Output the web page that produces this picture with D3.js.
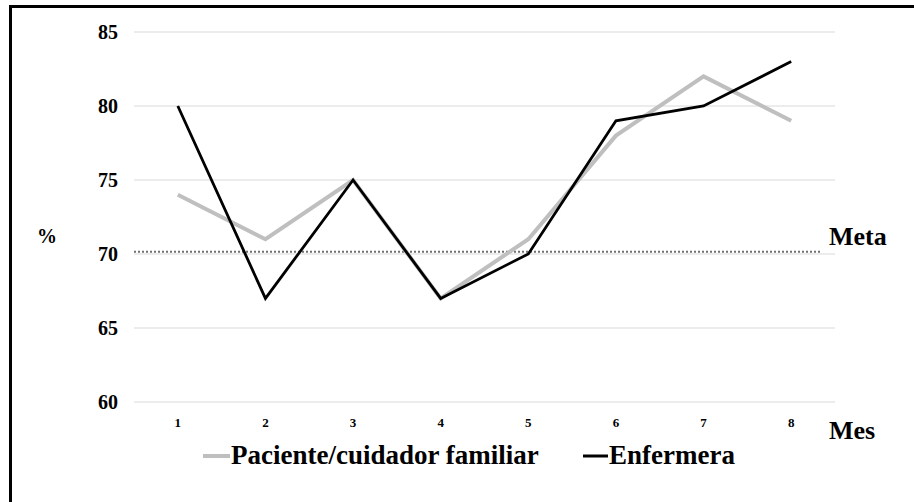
<!DOCTYPE html>
<html>
<head>
<meta charset="utf-8">
<script src="https://cdn.jsdelivr.net/npm/d3@7"></script>
<style>
  html, body { margin: 0; padding: 0; background: #fff; }
  svg { display: block; }
</style>
</head>
<body>
<svg id="chart" width="914" height="502"></svg>
<script>
const months = ["1", "2", "3", "4", "5", "6", "7", "8"];
const paciente = [74, 71, 75, 67, 71, 78, 82, 79];
const enfermera = [80, 67, 75, 67, 70, 79, 80, 83];
const meta = 70.15;
const yTicks = [60, 65, 70, 75, 80, 85];
const seriesNames = ["Paciente/cuidador familiar", "Enfermera"];

(function () {
const FONT = "'Liberation Serif', 'Times New Roman', Times, serif";
const svg = d3.select("#chart");
const style = (sel, size) => sel.style("font-family", FONT).style("font-weight", "bold")
  .style("font-size", size + "px").style("fill", "#000");

// frame (top and left)
svg.append("rect").attr("x", 0).attr("y", 0).attr("width", 914).attr("height", 502).attr("fill", "#fff");
svg.append("line").attr("x1", 9).attr("x2", 914).attr("y1", 6.5).attr("y2", 6.5)
  .attr("stroke", "#000").attr("stroke-width", 3);
svg.append("line").attr("x1", 10.5).attr("x2", 10.5).attr("y1", 5).attr("y2", 502)
  .attr("stroke", "#000").attr("stroke-width", 3);

const mLeft = 134, mRight = 835, mTop = 32, mBottom = 402;

const x = d3.scaleBand().domain(months).range([mLeft, mRight]);
const y = d3.scaleLinear().domain([60, 85]).range([mBottom, mTop]);
const cx = d => x(d) + x.bandwidth() / 2;

// gridlines
svg.append("g").selectAll("line").data(yTicks).join("line")
  .attr("x1", mLeft).attr("x2", mRight)
  .attr("y1", d => y(d)).attr("y2", d => y(d))
  .attr("stroke", "#e6e6e6").attr("stroke-width", 1.3);

// y axis labels
const yAxis = d3.axisLeft(y).tickValues(yTicks).tickSize(0).tickPadding(0);
const gy = svg.append("g").attr("transform", `translate(118,0)`).call(yAxis);
gy.select(".domain").remove();
style(gy.selectAll("text"), 20).attr("dy", "0.33em");

// x axis labels
const xAxis = d3.axisBottom(x).tickSize(0).tickPadding(0);
const gx = svg.append("g").attr("transform", `translate(0,427)`).call(xAxis);
gx.select(".domain").remove();
style(gx.selectAll("text"), 13).attr("dy", "0").attr("y", 0);

// meta dotted line
svg.append("line").attr("x1", mLeft).attr("x2", 820)
  .attr("y1", y(meta)).attr("y2", y(meta))
  .attr("stroke", "#707070").attr("stroke-width", 2).attr("stroke-dasharray", "2,2");

const line = d3.line().x((d, i) => cx(months[i])).y(d => y(d));

svg.append("path").datum(paciente).attr("d", line)
  .attr("fill", "none").attr("stroke", "#bfbfbf").attr("stroke-width", 4).attr("stroke-linejoin", "miter");
svg.append("path").datum(enfermera).attr("d", line)
  .attr("fill", "none").attr("stroke", "#000").attr("stroke-width", 2.8).attr("stroke-linejoin", "miter");

// labels
style(svg.append("text").attr("x", 37).attr("y", 243), 20).text("%");
style(svg.append("text").attr("x", 829).attr("y", 245), 26).text("Meta");
style(svg.append("text").attr("x", 829).attr("y", 439), 26).text("Mes");

// legend
const legend = [
  { name: seriesNames[0], color: "#bfbfbf", w: 4, x1: 203, x2: 230 },
  { name: seriesNames[1], color: "#000", w: 3, x1: 583, x2: 608 }
];
const lg = svg.append("g");
legend.forEach(l => {
  lg.append("line").attr("x1", l.x1).attr("x2", l.x2).attr("y1", 456).attr("y2", 456)
    .attr("stroke", l.color).attr("stroke-width", l.w);
  style(lg.append("text").attr("x", l.x2 + 1).attr("y", 464), 27).text(l.name);
});
})();
</script>
</body>
</html>
